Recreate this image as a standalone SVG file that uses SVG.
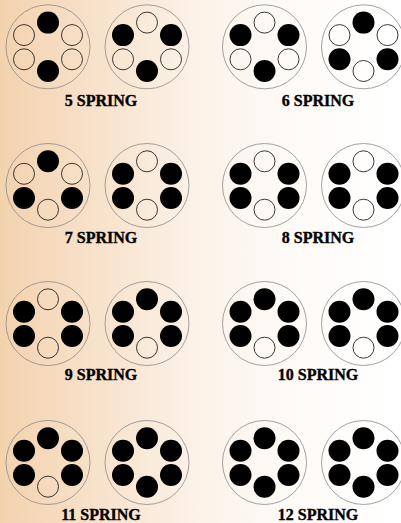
<svg xmlns="http://www.w3.org/2000/svg" width="401" height="523" viewBox="0 0 401 523">
<defs>
<linearGradient id="bg" x1="0" y1="0" x2="1" y2="0">
<stop offset="0" stop-color="#f3d2ae"/>
<stop offset="0.5" stop-color="#fcf3ea"/>
<stop offset="0.75" stop-color="#fefbf8"/>
<stop offset="1" stop-color="#ffffff"/>
</linearGradient>
</defs>
<style>
.o{fill:none;stroke:#8a8a8a;stroke-width:0.8}
.f{fill:#000}
.h{fill:none;stroke:#222;stroke-width:0.9}
.t{font-family:"Liberation Serif","Times New Roman",serif;font-weight:bold;font-size:16px;fill:#000;stroke:#000;stroke-width:0.35;text-anchor:middle}
</style>
<rect x="0" y="0" width="401" height="523" fill="url(#bg)"/>

<g id="spring5">
<g id="s5a" transform="translate(48,46.8)">
<circle class="o" r="42"/>
<circle class="f" cx="0" cy="-24.2" r="11"/>
<circle class="h" cx="-24" cy="-11.7" r="10.5"/>
<circle class="h" cx="24" cy="-11.7" r="10.5"/>
<circle class="h" cx="-24" cy="12.5" r="10.5"/>
<circle class="h" cx="24" cy="12.5" r="10.5"/>
<circle class="f" cx="0" cy="24.2" r="11"/>
</g>
<g id="s5b" transform="translate(147,46.8)">
<circle class="o" r="42"/>
<circle class="h" cx="0" cy="-24.2" r="10.5"/>
<circle class="f" cx="-24" cy="-11.7" r="11"/>
<circle class="f" cx="24" cy="-11.7" r="11"/>
<circle class="h" cx="-24" cy="12.5" r="10.5"/>
<circle class="h" cx="24" cy="12.5" r="10.5"/>
<circle class="f" cx="0" cy="24.2" r="11"/>
</g>
<text class="t" x="101" y="106">5 SPRING</text>
</g>

<g id="spring6">
<g id="s6a" transform="translate(264.5,46.8)">
<circle class="o" r="42"/>
<circle class="h" cx="0" cy="-24.2" r="10.5"/>
<circle class="f" cx="-24" cy="-11.7" r="11"/>
<circle class="f" cx="24" cy="-11.7" r="11"/>
<circle class="h" cx="-24" cy="12.5" r="10.5"/>
<circle class="h" cx="24" cy="12.5" r="10.5"/>
<circle class="f" cx="0" cy="24.2" r="11"/>
</g>
<g id="s6b" transform="translate(363.5,46.8)">
<circle class="o" r="42"/>
<circle class="f" cx="0" cy="-24.2" r="11"/>
<circle class="h" cx="-24" cy="-11.7" r="10.5"/>
<circle class="h" cx="24" cy="-11.7" r="10.5"/>
<circle class="f" cx="-24" cy="12.5" r="11"/>
<circle class="f" cx="24" cy="12.5" r="11"/>
<circle class="h" cx="0" cy="24.2" r="10.5"/>
</g>
<text class="t" x="318" y="106">6 SPRING</text>
</g>

<g id="spring7">
<g id="s7a" transform="translate(48,185.5)">
<circle class="o" r="42"/>
<circle class="f" cx="0" cy="-24.2" r="11"/>
<circle class="h" cx="-24" cy="-11.7" r="10.5"/>
<circle class="h" cx="24" cy="-11.7" r="10.5"/>
<circle class="f" cx="-24" cy="12.5" r="11"/>
<circle class="f" cx="24" cy="12.5" r="11"/>
<circle class="h" cx="0" cy="24.2" r="10.5"/>
</g>
<g id="s7b" transform="translate(147,185.5)">
<circle class="o" r="42"/>
<circle class="h" cx="0" cy="-24.2" r="10.5"/>
<circle class="f" cx="-24" cy="-11.7" r="11"/>
<circle class="f" cx="24" cy="-11.7" r="11"/>
<circle class="f" cx="-24" cy="12.5" r="11"/>
<circle class="f" cx="24" cy="12.5" r="11"/>
<circle class="h" cx="0" cy="24.2" r="10.5"/>
</g>
<text class="t" x="101" y="243">7 SPRING</text>
</g>

<g id="spring8">
<g id="s8a" transform="translate(264.5,185.5)">
<circle class="o" r="42"/>
<circle class="h" cx="0" cy="-24.2" r="10.5"/>
<circle class="f" cx="-24" cy="-11.7" r="11"/>
<circle class="f" cx="24" cy="-11.7" r="11"/>
<circle class="f" cx="-24" cy="12.5" r="11"/>
<circle class="f" cx="24" cy="12.5" r="11"/>
<circle class="h" cx="0" cy="24.2" r="10.5"/>
</g>
<g id="s8b" transform="translate(363.5,185.5)">
<circle class="o" r="42"/>
<circle class="h" cx="0" cy="-24.2" r="10.5"/>
<circle class="f" cx="-24" cy="-11.7" r="11"/>
<circle class="f" cx="24" cy="-11.7" r="11"/>
<circle class="f" cx="-24" cy="12.5" r="11"/>
<circle class="f" cx="24" cy="12.5" r="11"/>
<circle class="h" cx="0" cy="24.2" r="10.5"/>
</g>
<text class="t" x="318" y="243">8 SPRING</text>
</g>

<g id="spring9">
<g id="s9a" transform="translate(48,323.5)">
<circle class="o" r="42"/>
<circle class="h" cx="0" cy="-24.2" r="10.5"/>
<circle class="f" cx="-24" cy="-11.7" r="11"/>
<circle class="f" cx="24" cy="-11.7" r="11"/>
<circle class="f" cx="-24" cy="12.5" r="11"/>
<circle class="f" cx="24" cy="12.5" r="11"/>
<circle class="h" cx="0" cy="24.2" r="10.5"/>
</g>
<g id="s9b" transform="translate(147,323.5)">
<circle class="o" r="42"/>
<circle class="f" cx="0" cy="-24.2" r="11"/>
<circle class="f" cx="-24" cy="-11.7" r="11"/>
<circle class="f" cx="24" cy="-11.7" r="11"/>
<circle class="f" cx="-24" cy="12.5" r="11"/>
<circle class="f" cx="24" cy="12.5" r="11"/>
<circle class="h" cx="0" cy="24.2" r="10.5"/>
</g>
<text class="t" x="101" y="380">9 SPRING</text>
</g>

<g id="spring10">
<g id="s10a" transform="translate(264.5,323.5)">
<circle class="o" r="42"/>
<circle class="f" cx="0" cy="-24.2" r="11"/>
<circle class="f" cx="-24" cy="-11.7" r="11"/>
<circle class="f" cx="24" cy="-11.7" r="11"/>
<circle class="f" cx="-24" cy="12.5" r="11"/>
<circle class="f" cx="24" cy="12.5" r="11"/>
<circle class="h" cx="0" cy="24.2" r="10.5"/>
</g>
<g id="s10b" transform="translate(363.5,323.5)">
<circle class="o" r="42"/>
<circle class="f" cx="0" cy="-24.2" r="11"/>
<circle class="f" cx="-24" cy="-11.7" r="11"/>
<circle class="f" cx="24" cy="-11.7" r="11"/>
<circle class="f" cx="-24" cy="12.5" r="11"/>
<circle class="f" cx="24" cy="12.5" r="11"/>
<circle class="h" cx="0" cy="24.2" r="10.5"/>
</g>
<text class="t" x="318" y="380">10 SPRING</text>
</g>

<g id="spring11">
<g id="s11a" transform="translate(48,462.5)">
<circle class="o" r="42"/>
<circle class="f" cx="0" cy="-24.2" r="11"/>
<circle class="f" cx="-24" cy="-11.7" r="11"/>
<circle class="f" cx="24" cy="-11.7" r="11"/>
<circle class="f" cx="-24" cy="12.5" r="11"/>
<circle class="f" cx="24" cy="12.5" r="11"/>
<circle class="h" cx="0" cy="24.2" r="10.5"/>
</g>
<g id="s11b" transform="translate(147,462.5)">
<circle class="o" r="42"/>
<circle class="f" cx="0" cy="-24.2" r="11"/>
<circle class="f" cx="-24" cy="-11.7" r="11"/>
<circle class="f" cx="24" cy="-11.7" r="11"/>
<circle class="f" cx="-24" cy="12.5" r="11"/>
<circle class="f" cx="24" cy="12.5" r="11"/>
<circle class="f" cx="0" cy="24.2" r="11"/>
</g>
<text class="t" x="101" y="520">11 SPRING</text>
</g>

<g id="spring12">
<g id="s12a" transform="translate(264.5,462.5)">
<circle class="o" r="42"/>
<circle class="f" cx="0" cy="-24.2" r="11"/>
<circle class="f" cx="-24" cy="-11.7" r="11"/>
<circle class="f" cx="24" cy="-11.7" r="11"/>
<circle class="f" cx="-24" cy="12.5" r="11"/>
<circle class="f" cx="24" cy="12.5" r="11"/>
<circle class="f" cx="0" cy="24.2" r="11"/>
</g>
<g id="s12b" transform="translate(363.5,462.5)">
<circle class="o" r="42"/>
<circle class="f" cx="0" cy="-24.2" r="11"/>
<circle class="f" cx="-24" cy="-11.7" r="11"/>
<circle class="f" cx="24" cy="-11.7" r="11"/>
<circle class="f" cx="-24" cy="12.5" r="11"/>
<circle class="f" cx="24" cy="12.5" r="11"/>
<circle class="f" cx="0" cy="24.2" r="11"/>
</g>
<text class="t" x="318" y="520">12 SPRING</text>
</g>
</svg>
